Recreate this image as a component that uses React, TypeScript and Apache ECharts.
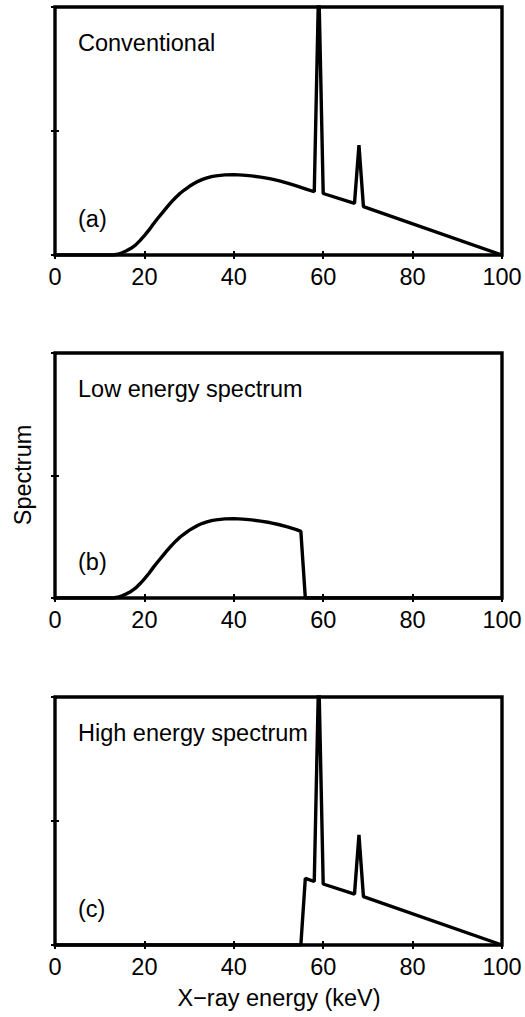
import React, { useEffect, useRef } from "react";
import * as echarts from "echarts";

// X-ray energy (keV) and relative spectrum values
const energyA = [0, 13, 14, 15, 16, 17, 18, 19, 20, 21, 22, 23, 24, 25, 26, 27, 28, 29, 30, 31, 32, 33, 34, 35, 36, 37, 38, 40, 42, 44, 46, 48, 50, 52, 54, 56, 58, 59, 60, 67, 68, 69, 100];
const valuesA = [0, 0, 0.003, 0.009, 0.017, 0.027, 0.04, 0.058, 0.078, 0.1, 0.125, 0.148, 0.17, 0.192, 0.213, 0.232, 0.249, 0.263, 0.276, 0.287, 0.297, 0.305, 0.311, 0.316, 0.319, 0.321, 0.323, 0.324, 0.322, 0.319, 0.314, 0.308, 0.3, 0.29, 0.279, 0.267, 0.255, 1.1, 0.248, 0.208, 0.443, 0.195, 0];

const energyB = [0, 13, 14, 15, 16, 17, 18, 19, 20, 21, 22, 23, 24, 25, 26, 27, 28, 29, 30, 31, 32, 33, 34, 35, 36, 37, 38, 40, 42, 44, 46, 48, 50, 52, 54, 55, 56, 100];
const valuesB = [0, 0, 0.003, 0.009, 0.017, 0.027, 0.04, 0.058, 0.078, 0.1, 0.125, 0.148, 0.17, 0.192, 0.213, 0.232, 0.249, 0.263, 0.276, 0.287, 0.297, 0.305, 0.311, 0.316, 0.319, 0.321, 0.323, 0.324, 0.322, 0.319, 0.314, 0.308, 0.3, 0.29, 0.279, 0.272, 0, 0];

const energyC = [0, 55, 56, 58, 59, 60, 67, 68, 69, 100];
const valuesC = [0, 0, 0.269, 0.256, 1.1, 0.246, 0.205, 0.444, 0.195, 0];

const xTicks = [0, 20, 40, 60, 80, 100];
const panelTitles = ["Conventional", "Low energy spectrum", "High energy spectrum"];
const panelTags = ["(a)", "(b)", "(c)"];
const yLabel = "Spectrum";
const xLabel = "X\u2212ray energy (keV)";

const FONT = "'Liberation Sans', Arial, Helvetica, sans-serif";
const FS = 23.5;

export default function App() {
  const ref = useRef<HTMLDivElement>(null);
  useEffect(() => {
    if (!ref.current) return;
    const chart = echarts.init(ref.current, null, { renderer: "svg" });
    const grids = [
      { top: 7, height: 248 },
      { top: 353, height: 245 },
      { top: 697, height: 248 },
    ];
    const datasets = [
      energyA.map((e, i) => [e, valuesA[i]]),
      energyB.map((e, i) => [e, valuesB[i]]),
      energyC.map((e, i) => [e, valuesC[i]]),
    ];
    const tick = { show: true, inside: true, length: 4, lineStyle: { color: "#000", width: 2 } };
    const xAxes: any[] = [];
    const yAxes: any[] = [];
    const series: any[] = [];
    const graphics: any[] = [];
    grids.forEach((g, i) => {
      xAxes.push({
        type: "value",
        gridIndex: i,
        position: "bottom",
        min: xTicks[0],
        max: xTicks[xTicks.length - 1],
        interval: 20,
        axisLine: { show: false },
        axisTick: tick,
        splitLine: { show: false },
        axisLabel: { show: true, color: "#000", fontSize: FS, fontFamily: FONT, margin: 10 },
      });
      xAxes.push({
        type: "value",
        gridIndex: i,
        position: "top",
        min: 0,
        max: 100,
        interval: 20,
        axisLine: { show: false },
        axisTick: tick,
        splitLine: { show: false },
        axisLabel: { show: false },
      });
      yAxes.push({
        type: "value",
        gridIndex: i,
        position: "left",
        min: 0,
        max: 1,
        interval: 0.5,
        axisLine: { show: false },
        axisTick: tick,
        splitLine: { show: false },
        axisLabel: { show: false },
      });
      yAxes.push({
        type: "value",
        gridIndex: i,
        position: "right",
        min: 0,
        max: 1,
        interval: 0.5,
        axisLine: { show: false },
        axisTick: tick,
        splitLine: { show: false },
        axisLabel: { show: false },
      });
      series.push({
        type: "line",
        xAxisIndex: i * 2,
        yAxisIndex: i * 2,
        data: datasets[i],
        symbol: "none",
        clip: true,
        lineStyle: { color: "#000", width: 3.4 },
        z: 3,
      });
      graphics.push({
        type: "text",
        x: 78,
        y: g.top + 36,
        style: { text: panelTitles[i], fontSize: FS, fontFamily: FONT, fill: "#000", verticalAlign: "middle" },
      });
      graphics.push({
        type: "text",
        x: 78,
        y: g.top + g.height - 36,
        style: { text: panelTags[i], fontSize: FS, fontFamily: FONT, fill: "#000", verticalAlign: "middle" },
      });
    });
    graphics.push({
      type: "text",
      x: 23,
      y: 475,
      rotation: Math.PI / 2,
      style: { text: yLabel, fontSize: FS, fontFamily: FONT, fill: "#000", align: "center", verticalAlign: "middle" },
    });
    graphics.push({
      type: "text",
      x: 279,
      y: 998,
      style: { text: xLabel, fontSize: FS, fontFamily: FONT, fill: "#000", align: "center", verticalAlign: "middle" },
    });
    chart.setOption({
      animation: false,
      backgroundColor: "#fff",
      grid: grids.map((g) => ({
        left: 55,
        right: 23,
        top: g.top,
        height: g.height,
        show: true,
        borderColor: "#000",
        borderWidth: 3.4,
        backgroundColor: "transparent",
      })),
      xAxis: xAxes,
      yAxis: yAxes,
      series,
      graphic: graphics,
    });
    return () => chart.dispose();
  }, []);
  return (
    <div
      ref={ref}
      style={{ position: "absolute", left: 0, top: 0, width: 525, height: 1017 }}
    />
  );
}
